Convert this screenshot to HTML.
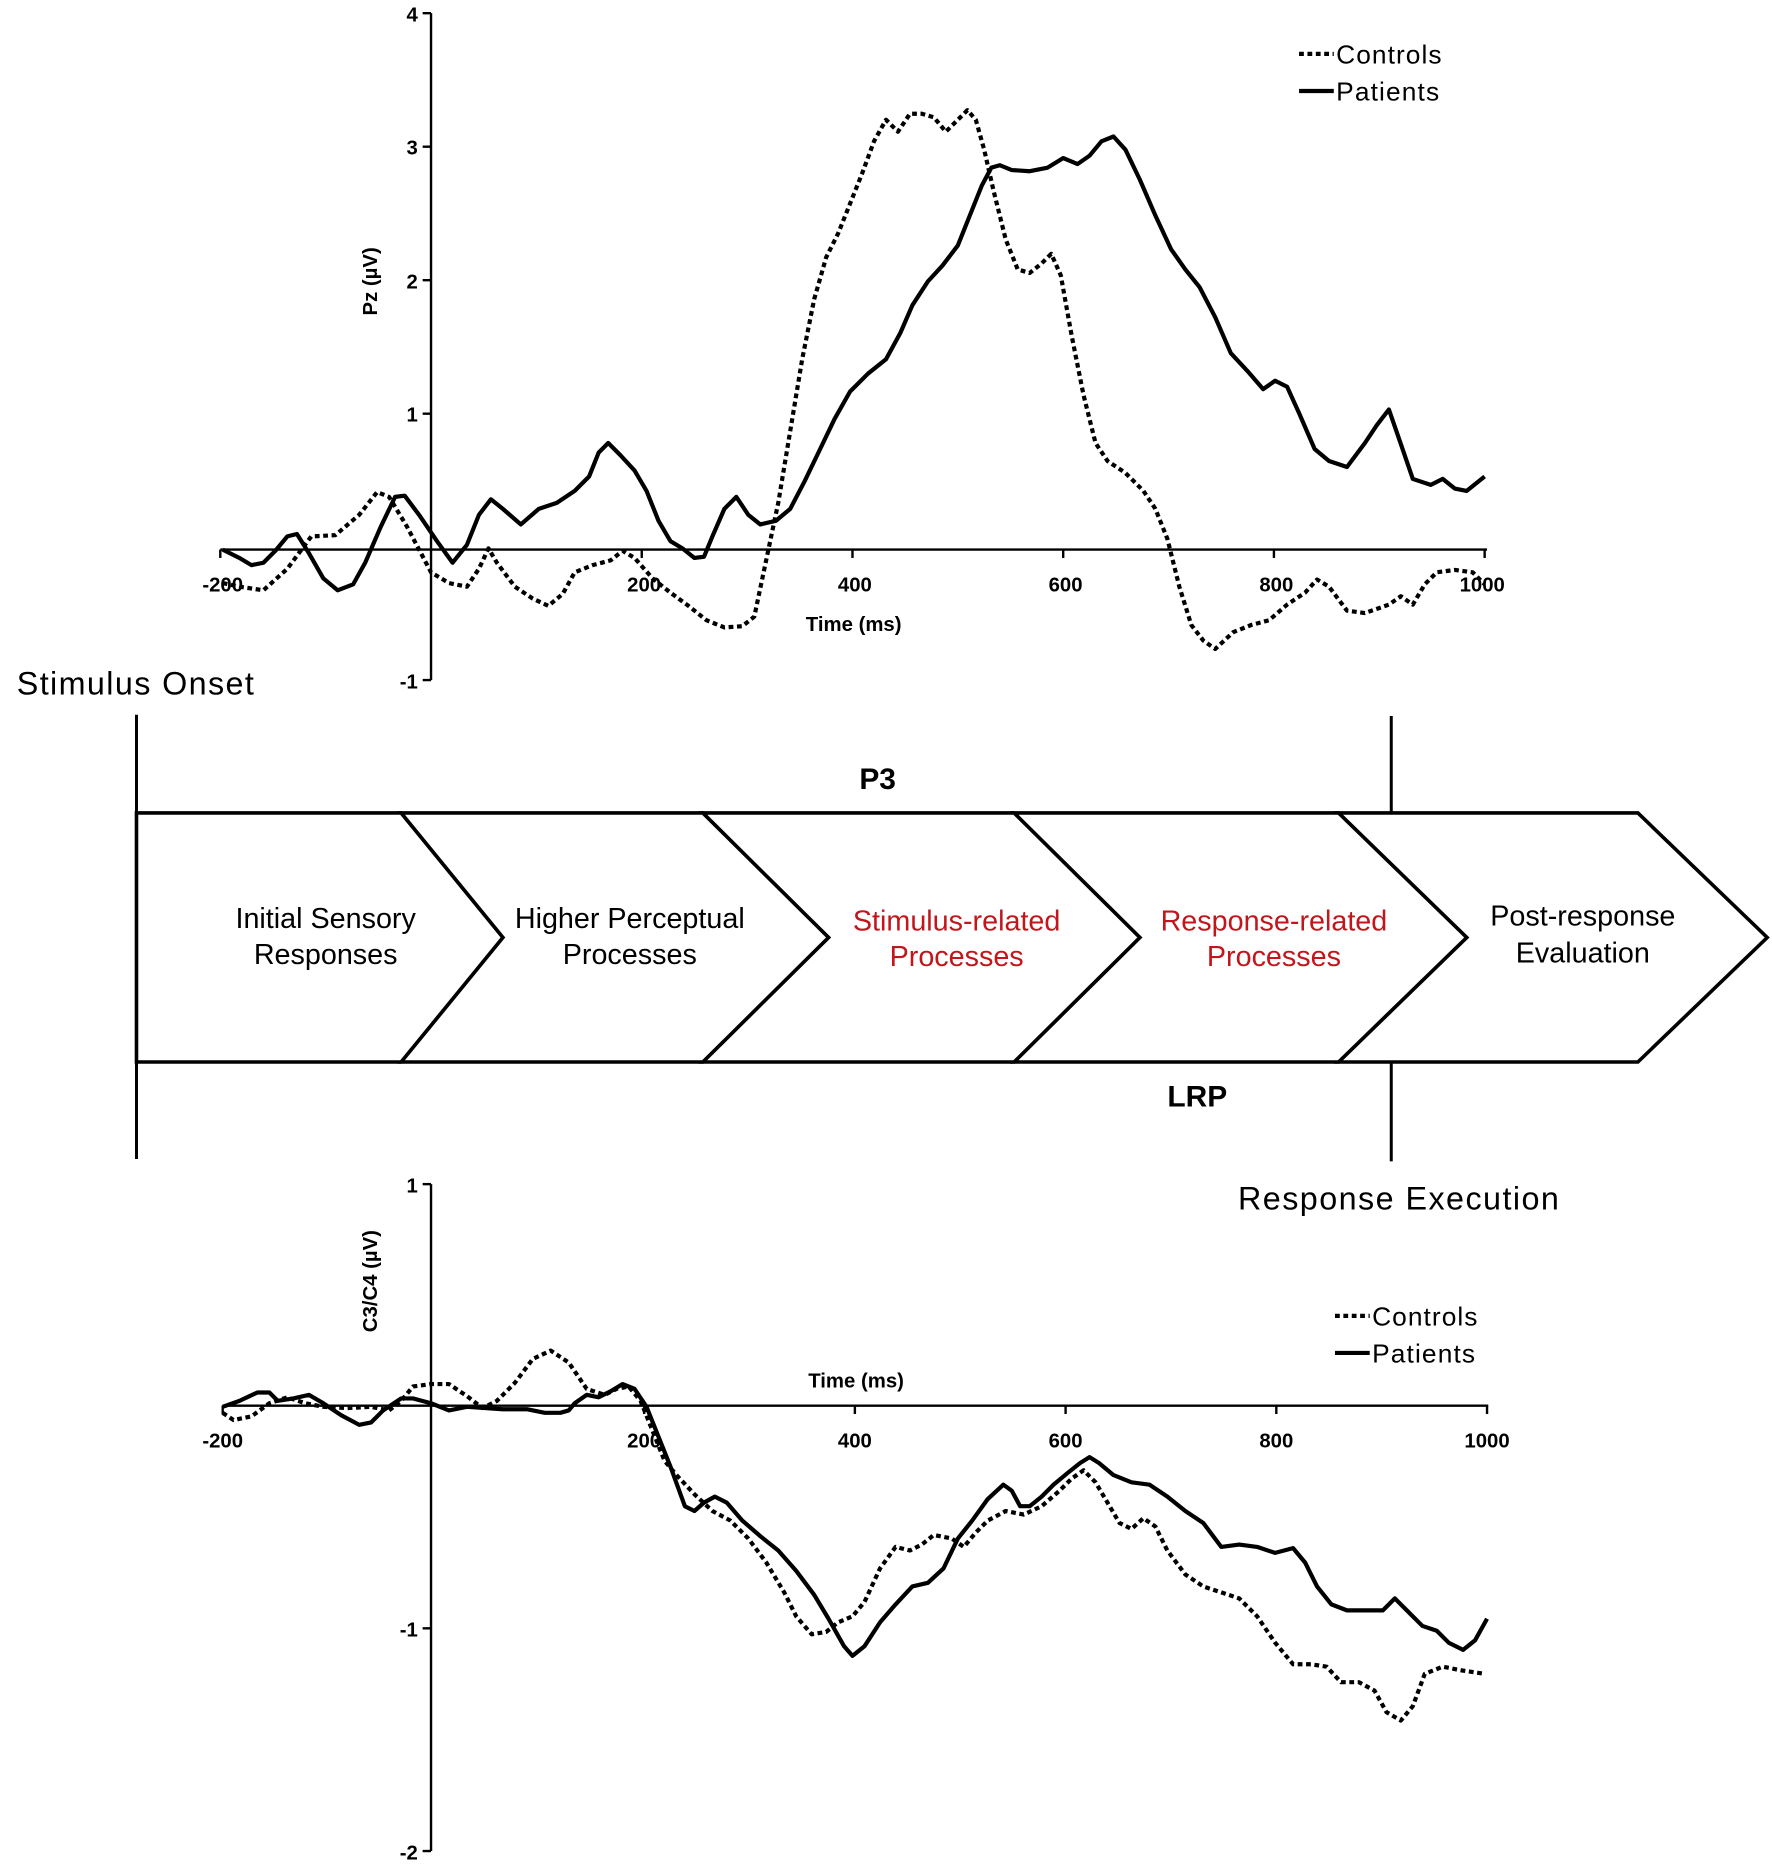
<!DOCTYPE html>
<html><head><meta charset="utf-8"><style>html,body{margin:0;padding:0;background:#fff}svg{display:block}</style></head>
<body>
<svg width="1772" height="1872" viewBox="0 0 1480 1563.5" xmlns="http://www.w3.org/2000/svg" font-family="Liberation Sans, Arial, sans-serif">
<rect width="1480" height="1564" fill="#fff"/>
<!-- TOP CHART -->
<g stroke="#000" stroke-width="2" fill="none">
<line x1="360" y1="11" x2="360" y2="568"/>
<line x1="184" y1="459" x2="1242" y2="459"/>
<line x1="353" y1="11" x2="360" y2="11"/><line x1="353" y1="122.5" x2="360" y2="122.5"/><line x1="353" y1="234" x2="360" y2="234"/><line x1="353" y1="345.5" x2="360" y2="345.5"/><line x1="353" y1="568" x2="360" y2="568"/>
<line x1="184" y1="459" x2="184" y2="466"/><line x1="536" y1="459" x2="536" y2="466"/><line x1="712" y1="459" x2="712" y2="466"/><line x1="888" y1="459" x2="888" y2="466"/><line x1="1064" y1="459" x2="1064" y2="466"/><line x1="1240" y1="459" x2="1240" y2="466"/>
</g>
<g font-size="17" font-weight="bold" text-anchor="end">
<text x="349" y="18">4</text><text x="349" y="129">3</text><text x="349" y="241">2</text><text x="349" y="352">1</text><text x="349" y="575">-1</text>
</g>
<g font-size="17" font-weight="bold" text-anchor="middle">
<text x="186" y="494">-200</text><text x="538" y="494">200</text><text x="714" y="494">400</text><text x="890" y="494">600</text><text x="1066" y="494">800</text><text x="1238" y="494">1000</text>
<text x="713" y="527">Time (ms)</text>
<text transform="translate(315,235) rotate(-90)">Pz (µV)</text>
</g>
<polyline fill="none" stroke="#000" stroke-width="3.5" stroke-dasharray="4 3" stroke-linejoin="round" points="186,487 200,490 220,493 240,475 260,448 280,447 300,430 315,411 325,415 340,440 360,478 375,487 390,490 400,475 408,458 415,470 430,490 445,500 458,506 470,496 480,478 495,472 510,468 520,460 530,466 545,483 560,495 575,506 590,518 605,524 620,523 630,515 642,458 650,420 660,360 670,300 680,250 690,215 700,195 710,170 720,145 730,118 740,100 750,110 760,95 770,95 780,98 790,110 800,100 808,92 815,100 822,125 830,160 840,200 850,225 860,228 870,220 878,212 886,230 895,280 905,330 915,370 925,385 940,395 955,410 965,425 975,450 985,490 995,522 1005,535 1015,542 1030,528 1045,522 1060,518 1075,505 1090,495 1100,484 1110,490 1125,510 1140,512 1160,505 1170,498 1180,505 1190,488 1200,478 1215,476 1230,478 1240,488"/>
<polyline fill="none" stroke="#000" stroke-width="3.5" stroke-linejoin="round" points="186,459 200,466 210,472 220,470 230,460 240,448 248,446 258,462 270,483 282,493 295,488 305,470 318,440 330,415 338,414 350,430 365,452 378,470 390,455 400,430 410,417 420,425 435,438 450,425 465,420 480,410 492,398 500,378 508,370 518,380 530,393 540,410 550,435 560,452 570,458 580,466 588,465 595,448 605,425 615,415 625,430 635,438 648,435 660,425 672,402 685,375 697,350 710,327 725,312 740,300 752,278 762,255 775,235 787,222 800,205 810,180 820,155 828,140 835,138 845,142 860,143 875,140 888,132 900,137 910,130 920,118 930,114 940,125 952,150 965,180 978,208 990,225 1002,240 1015,265 1028,295 1042,310 1055,325 1065,318 1075,323 1085,345 1098,375 1110,385 1125,390 1140,370 1150,355 1160,342 1168,365 1180,400 1195,405 1205,400 1215,408 1225,410 1240,398"/>
<line x1="1085" y1="45" x2="1114" y2="45" stroke="#000" stroke-width="3.5" stroke-dasharray="4 3"/>
<line x1="1085" y1="76" x2="1114" y2="76" stroke="#000" stroke-width="3.5"/>
<text x="1116" y="53" font-size="22" textLength="88">Controls</text>
<text x="1116" y="84" font-size="22" textLength="86">Patients</text>

<!-- MIDDLE DIAGRAM -->
<text x="14" y="580" font-size="27" textLength="198">Stimulus Onset</text>
<g stroke="#000" stroke-width="2.5" fill="none">
<line x1="114" y1="597" x2="114" y2="968"/>
<line x1="1162" y1="598" x2="1162" y2="679"/>
<line x1="1162" y1="887" x2="1162" y2="970"/>
</g>
<g stroke="#000" stroke-width="3" fill="#fff" stroke-linejoin="miter">
<polygon points="1118,679 1368,679 1476,783 1368,887 1118,887 1225,783"/>
<polygon points="847,679 1118,679 1225,783 1118,887 847,887 952,783"/>
<polygon points="587,679 847,679 952,783 847,887 587,887 692,783"/>
<polygon points="335,679 587,679 692,783 587,887 335,887 420,783"/>
<polygon points="114,679 335,679 420,783 335,887 114,887"/>
</g>
<text x="733" y="659" font-size="25" font-weight="bold" text-anchor="middle">P3</text>
<text x="1000" y="924" font-size="25" font-weight="bold" text-anchor="middle">LRP</text>
<text x="1034" y="1010" font-size="27" textLength="268">Response Execution</text>
<g font-size="24" text-anchor="middle">
<text x="272" y="775">Initial Sensory</text><text x="272" y="805">Responses</text>
<text x="526" y="775">Higher Perceptual</text><text x="526" y="805">Processes</text>
<text x="799" y="777" fill="#c0161c">Stimulus-related</text><text x="799" y="807" fill="#c0161c">Processes</text>
<text x="1064" y="777" fill="#c0161c">Response-related</text><text x="1064" y="807" fill="#c0161c">Processes</text>
<text x="1322" y="773">Post-response</text><text x="1322" y="804">Evaluation</text>
</g>

<!-- BOTTOM CHART -->
<g stroke="#000" stroke-width="2" fill="none">
<line x1="360" y1="989" x2="360" y2="1546"/>
<line x1="186" y1="1174" x2="1243" y2="1174"/>
<line x1="353" y1="989" x2="360" y2="989"/><line x1="353" y1="1360" x2="360" y2="1360"/><line x1="353" y1="1546" x2="360" y2="1546"/>
<line x1="186" y1="1174" x2="186" y2="1181"/><line x1="538" y1="1174" x2="538" y2="1181"/><line x1="714" y1="1174" x2="714" y2="1181"/><line x1="890" y1="1174" x2="890" y2="1181"/><line x1="1066" y1="1174" x2="1066" y2="1181"/><line x1="1242" y1="1174" x2="1242" y2="1181"/>
</g>
<g font-size="17" font-weight="bold" text-anchor="end">
<text x="349" y="996">1</text><text x="349" y="1367">-1</text><text x="349" y="1553">-2</text>
</g>
<g font-size="17" font-weight="bold" text-anchor="middle">
<text x="186" y="1209">-200</text><text x="538" y="1209">200</text><text x="714" y="1209">400</text><text x="890" y="1209">600</text><text x="1066" y="1209">800</text><text x="1242" y="1209">1000</text>
<text x="715" y="1159">Time (ms)</text>
<text transform="translate(315,1070) rotate(-90)">C3/C4 (µV)</text>
</g>
<polyline fill="none" stroke="#000" stroke-width="3.5" stroke-dasharray="4 3" stroke-linejoin="round" points="186,1180 195,1186 210,1183 225,1172 240,1167 255,1172 270,1175 290,1176 310,1175 325,1178 335,1170 345,1158 360,1156 375,1156 390,1166 403,1176 415,1170 430,1155 445,1135 460,1128 475,1138 490,1160 505,1165 515,1160 525,1158 535,1170 545,1195 555,1220 565,1232 580,1248 595,1262 610,1270 625,1285 640,1305 655,1330 665,1350 678,1365 690,1363 700,1355 712,1350 722,1338 735,1310 748,1292 760,1295 770,1290 780,1282 795,1285 805,1292 815,1280 825,1270 840,1262 855,1265 870,1258 885,1245 895,1235 905,1228 915,1238 925,1255 935,1272 945,1277 955,1268 965,1275 975,1295 990,1315 1005,1325 1020,1330 1035,1335 1050,1350 1065,1372 1080,1390 1095,1390 1108,1392 1120,1405 1135,1405 1148,1412 1158,1430 1170,1437 1180,1425 1190,1398 1205,1392 1220,1395 1240,1398"/>
<polyline fill="none" stroke="#000" stroke-width="3.5" stroke-linejoin="round" points="186,1175 200,1170 215,1163 225,1163 232,1170 245,1168 258,1165 270,1172 285,1182 300,1190 310,1188 320,1178 335,1168 345,1168 360,1172 375,1178 390,1175 405,1176 420,1177 440,1177 455,1180 468,1180 475,1178 480,1172 490,1165 500,1167 510,1162 520,1156 530,1160 540,1175 550,1200 560,1225 572,1258 580,1262 588,1255 597,1250 607,1255 620,1270 635,1283 650,1295 665,1312 680,1332 692,1352 705,1375 712,1383 722,1375 735,1355 748,1340 762,1325 775,1322 788,1310 800,1285 812,1270 825,1252 838,1240 845,1245 852,1258 860,1258 870,1250 880,1240 892,1230 902,1222 910,1217 918,1222 930,1232 945,1238 960,1240 975,1250 990,1262 1005,1272 1020,1292 1035,1290 1050,1292 1065,1297 1080,1293 1090,1305 1100,1325 1112,1340 1125,1345 1140,1345 1155,1345 1165,1335 1175,1345 1188,1358 1200,1362 1210,1372 1222,1378 1232,1370 1242,1352"/>
<line x1="1115" y1="1099" x2="1144" y2="1099" stroke="#000" stroke-width="3.5" stroke-dasharray="4 3"/>
<line x1="1115" y1="1130" x2="1144" y2="1130" stroke="#000" stroke-width="3.5"/>
<text x="1146" y="1107" font-size="22" textLength="88">Controls</text>
<text x="1146" y="1138" font-size="22" textLength="86">Patients</text>
</svg>
</body></html>
